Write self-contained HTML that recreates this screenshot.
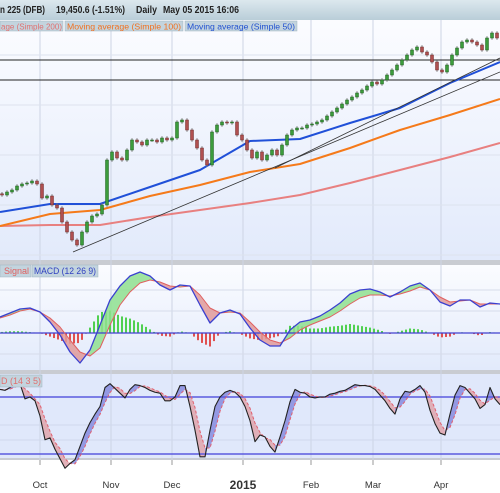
<!DOCTYPE html>
<html><head><meta charset="utf-8"><style>
body{margin:0;width:500px;height:493px;overflow:hidden;background:#fff;font-family:"Liberation Sans",sans-serif}
svg{display:block}
</style></head><body>
<svg id="c" width="500" height="493" xmlns="http://www.w3.org/2000/svg">
<defs>
<linearGradient id="pg" x1="0" y1="0" x2="0" y2="1"><stop offset="0" stop-color="#fbfcff"/><stop offset="1" stop-color="#e2eafb"/></linearGradient>
<linearGradient id="hg" x1="0" y1="0" x2="0" y2="1"><stop offset="0" stop-color="#dce8ee"/><stop offset="1" stop-color="#b9cdd8"/></linearGradient>
</defs>
<rect x="0" y="0" width="500" height="20" fill="url(#hg)"/>
<g font-size="10.5" font-weight="bold" fill="#222">
<text x="0" y="13" textLength="45" lengthAdjust="spacingAndGlyphs">n 225 (DFB)</text>
<text x="56" y="13" textLength="69" lengthAdjust="spacingAndGlyphs">19,450.6 (-1.51%)</text>
<text x="136" y="13" textLength="21" lengthAdjust="spacingAndGlyphs">Daily</text>
<text x="163" y="13" textLength="76" lengthAdjust="spacingAndGlyphs">May 05 2015 16:06</text>
</g>
<rect x="0" y="20" width="500" height="240" fill="url(#pg)"/>
<rect x="0" y="260" width="500" height="5" fill="#c9ccd2"/>
<rect x="0" y="265" width="500" height="105" fill="url(#pg)"/>
<rect x="0" y="370" width="500" height="4" fill="#c9ccd2"/>
<rect x="0" y="374" width="500" height="84" fill="#e0e8fb"/>
<rect x="0" y="458" width="500" height="2" fill="#c9ccd2"/>
<g id="grid"></g>
<g id="main"></g>
<g id="macd"></g>
<g id="stoch"></g>
<g id="axis"></g>
<rect x="0" y="21" width="63" height="10" fill="#c3d4de" stroke="#9fb4c0" stroke-width="0.5"/>
<text x="1" y="29.5" font-size="8.5" textLength="61" lengthAdjust="spacingAndGlyphs" fill="#e07070">age (Simple 200)</text>
<rect x="65" y="21" width="118" height="10" fill="#c3d4de" stroke="#9fb4c0" stroke-width="0.5"/>
<text x="67" y="29.5" font-size="8.5" textLength="114" lengthAdjust="spacingAndGlyphs" fill="#f07020">Moving average (Simple 100)</text>
<rect x="185" y="21" width="112" height="10" fill="#c3d4de" stroke="#9fb4c0" stroke-width="0.5"/>
<text x="187" y="29.5" font-size="8.5" textLength="108" lengthAdjust="spacingAndGlyphs" fill="#2050d0">Moving average (Simple 50)</text>
<rect x="0" y="265" width="31" height="12" fill="#c3d4de" stroke="#9fb4c0" stroke-width="0.5"/>
<text x="4" y="274" font-size="9" textLength="25" lengthAdjust="spacingAndGlyphs" fill="#e06060">Signal</text>
<rect x="32" y="265" width="66" height="12" fill="#c3d4de" stroke="#9fb4c0" stroke-width="0.5"/>
<text x="34" y="274" font-size="9" textLength="62" lengthAdjust="spacingAndGlyphs" fill="#3040c0">MACD (12 26 9)</text>
<rect x="0" y="375" width="42" height="12" fill="#c3d4de" stroke="#9fb4c0" stroke-width="0.5"/>
<text x="1" y="384" font-size="9" textLength="40" lengthAdjust="spacingAndGlyphs" fill="#e07070">D (14 3 5)</text>
</svg>
<script>
const closes=[15925,16000,16050,16150,16200,16225,16275,16200,15850,15900,15675,15600,15250,15000,14800,14675,15000,15250,15400,15450,15675,16800,17000,16850,16800,17050,17300,17250,17175,17300,17300,17250,17350,17300,17350,17750,17800,17550,17300,17100,16800,16675,17500,17675,17750,17725,17750,17425,17300,17050,16850,17000,16800,16925,17050,16925,17175,17425,17550,17600,17600,17675,17700,17750,17800,17900,18000,18100,18200,18300,18375,18475,18550,18650,18750,18700,18800,18925,19050,19175,19300,19425,19550,19625,19500,19425,19250,19050,19000,19175,19425,19600,19750,19800,19750,19675,19550,19850,19975,19850];
const ma50=[15500,15700,15700,16125,16550,17275,17325,17725,18100,18725,19250];
const ma100=[15150,15450,15550,15900,16175,16500,16700,17100,17550,17925,18325];
const ma200=[15150,15175,15175,15375,15550,15725,15925,16225,16550,16875,17225];
const macdVals=[160,200,240,250,210,110,-20,-190,-300,-170,80,330,470,570,610,570,480,430,480,470,280,100,200,230,190,50,-70,-130,-130,30,110,130,170,230,300,390,430,440,410,360,410,470,500,430,310,270,330,330,260,300,290];
const signalVals=[150,180,220,240,210,150,60,-70,-190,-230,-150,80,280,410,500,530,510,470,460,470,380,250,200,210,200,110,10,-70,-100,-50,30,80,120,160,220,290,350,380,380,370,390,420,460,430,360,310,320,330,290,290,290];
const stochK=[88,87,90,94,94,78,80,76,60,35,37,25,15,5,10,14,28,42,53,62,70,90,94,89,84,79,88,93,92,90,87,85,84,76,76,80,92,92,70,45,17,17,45,70,80,85,87,85,80,70,55,33,40,38,28,22,38,55,75,88,85,84,80,79,80,80,83,84,86,87,90,93,92,92,91,88,82,76,68,62,78,86,85,88,92,85,66,52,42,40,62,82,92,90,84,78,68,72,90,78,72];
const months=["Oct","Nov","Dec","2015","Feb","Mar","Apr"];
const monthX=[40,111,172,243,311,373,441];
const hLevels=[19300,18800];
const trend1=[[73,14500],[500,19000]];
const trend2=[[275,16600],[500,19350]];

const NS="http://www.w3.org/2000/svg";
function mk(tag,attrs,parent){const e=document.createElementNS(NS,tag);for(const k in attrs)e.setAttribute(k,attrs[k]);parent.appendChild(e);return e;}
const py=p=>(20800-p)/25;
const cx=i=>2+5*i;
const mx=i=>50*i;
const gx=i=>10*i;
const gy=v=>333-v/10;
const sx=i=>5*i;
const sy=s=>397-(s-80)*0.95;

const grid=document.getElementById('grid');
monthX.forEach((x,i)=>{const l=mk('line',{x1:x,x2:x,y1:20,y2:462,stroke:'#cdd4e4','stroke-width':1},grid);

});
[55,105,155,205,255].forEach(y=>{const l=mk('line',{x1:0,x2:500,y1:y,y2:y,stroke:'#dde3ee','stroke-width':1},grid);

});
[290,311,354].forEach(y=>{const l=mk('line',{x1:0,x2:500,y1:y,y2:y,stroke:'#d6dcea','stroke-width':1},grid);

});
[425,440].forEach(y=>{const l=mk('line',{x1:0,x2:500,y1:y,y2:y,stroke:'#cfd8ec','stroke-width':1},grid);

});

const main=document.getElementById('main');
hLevels.forEach(p=>{const l=mk('line',{x1:0,x2:500,y1:py(p),y2:py(p),stroke:'#222','stroke-width':1},main);

});
function line(pts,color,w,parent,name){const l=mk('polyline',{points:pts.map(p=>p.join(',')).join(' '),fill:'none',stroke:color,'stroke-width':w,'stroke-linejoin':'round'},parent);

return l;}
line(ma200.map((v,i)=>[mx(i),py(v)]),'#e88080',2,main,'ma200-line');
line(ma100.map((v,i)=>[mx(i),py(v)]),'#f57a1a',2,main,'ma100-line');
line(ma50.map((v,i)=>[mx(i),py(v)]),'#2050d8',2,main,'ma50-line');
[trend1,trend2].forEach(t=>{const l=mk('line',{x1:t[0][0],y1:py(t[0][1]),x2:t[1][0],y2:py(t[1][1]),stroke:'#333','stroke-width':0.8},main);

});
closes.forEach((c,i)=>{const o=i?closes[i-1]:c+30;const hi=Math.max(o,c)+45,lo=Math.min(o,c)-45;const x=cx(i);
const w=mk('line',{x1:x,x2:x,y1:py(hi),y2:py(lo),stroke:'#777','stroke-width':1},main);


const up=c>=o;const top=py(Math.max(o,c)),h=Math.max(1,Math.abs(py(o)-py(c)));
const b=mk('rect',{x:x-1.5,y:top,width:3,height:h,fill:up?'#3c9c3c':'#b05050',stroke:up?'#1f5f1f':'#6f2a2a','stroke-width':0.5},main);

});

const mg=document.getElementById('macd');
function interp(arr,xf,x){const n=arr.length;for(let i=0;i<n-1;i++){const a=xf(i),b=xf(i+1);if(x>=a&&x<=b){const t=(x-a)/(b-a);return arr[i]+(arr[i+1]-arr[i])*t;}}return arr[n-1];}
for(let x=2;x<500;x+=4){const d=interp(macdVals,gx,x)-interp(signalVals,gx,x);const h=d/10*0.9;
const r=mk('rect',{x:x-1,y:h>0?333-h:333,width:2,height:Math.abs(h),fill:h>0?'#50d050':'#e05050'},mg);

}
for(let i=0;i<macdVals.length-1;i++){const d=(macdVals[i]+macdVals[i+1])-(signalVals[i]+signalVals[i+1]);
const p=mk('polygon',{points:`${gx(i)},${gy(macdVals[i])} ${gx(i+1)},${gy(macdVals[i+1])} ${gx(i+1)},${gy(signalVals[i+1])} ${gx(i)},${gy(signalVals[i])}`,fill:d>0?'#8fe08f':'#e09a9a',opacity:0.85},mg);

}
const z=mk('line',{x1:0,x2:500,y1:333,y2:333,stroke:'#4040d0','stroke-width':1.2},mg);


line(signalVals.map((v,i)=>[gx(i),gy(v)]),'#e06060',1,mg,'signal-line');
line(macdVals.map((v,i)=>[gx(i),gy(v)]),'#3a40d0',1.3,mg,'macd-line');

const sg=document.getElementById('stoch');
const stochD=stochK.map((v,i)=>{const a=stochK[Math.max(0,i-1)],b=stochK[Math.max(0,i-2)];return (v+a+b)/3;});
for(let i=0;i<stochK.length-1;i++){const d=(stochK[i]+stochK[i+1])-(stochD[i]+stochD[i+1]);
const p=mk('polygon',{points:`${sx(i)},${sy(stochK[i])} ${sx(i+1)},${sy(stochK[i+1])} ${sx(i+1)},${sy(stochD[i+1])} ${sx(i)},${sy(stochD[i])}`,fill:d>0?'#8c90e0':'#e0a8b0',opacity:0.9},sg);

}
[80,20].forEach(s=>{const l=mk('line',{x1:0,x2:500,y1:sy(s),y2:sy(s),stroke:'#5a5ae0','stroke-width':1.5},sg);

});
const dl=line(stochD.map((v,i)=>[sx(i),sy(v)]),'#e06070',1,sg,'stoch-d-line');dl.setAttribute('stroke-dasharray','3,2');
line(stochK.map((v,i)=>[sx(i),sy(v)]),'#222',1.1,sg,'stoch-k-line');

const ax=document.getElementById('axis');
months.forEach((m,i)=>{const x=monthX[i];
const t=mk('line',{x1:x,x2:x,y1:460,y2:465,stroke:'#999','stroke-width':1},ax);


const tx=mk('text',{x:x,y:m==='2015'?489:488,'text-anchor':'middle','font-size':m==='2015'?12:9.5,'font-weight':m==='2015'?'bold':'normal',fill:'#333'},ax);
tx.textContent=m;

});
</script>
</body></html>
